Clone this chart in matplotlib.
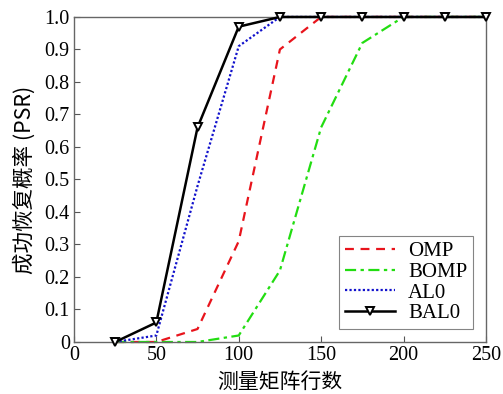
import matplotlib
matplotlib.use('Agg')
import matplotlib.pyplot as plt

# measurement rows (x) and success probability for each algorithm
rows = [25, 50, 75, 100, 125, 150, 175, 200, 225, 250]
omp  = [0, 0, 0.04, 0.31, 0.90, 1.0, 1.0, 1.0, 1.0, 1.0]
bomp = [0, 0, 0, 0.02, 0.22, 0.66, 0.92, 1.0, 1.0, 1.0]
al0  = [0, 0.02, 0.48, 0.91, 1.0, 1.0, 1.0, 1.0, 1.0, 1.0]
bal0 = [0, 0.06, 0.66, 0.97, 1.0, 1.0, 1.0, 1.0, 1.0, 1.0]

SERIF = ['Liberation Serif', 'DejaVu Serif']
CJK = ['Noto Sans CJK SC', 'DejaVu Sans']
plt.rcParams['font.family'] = SERIF

fig = plt.figure(figsize=(5.03, 3.94), dpi=100)
ax = fig.add_axes([0.147, 0.132, 0.819, 0.825])

ax.plot(rows, omp, color='#e8141c', ls=(0, (4, 3)), lw=1.6, label='OMP', clip_on=False)
ax.plot(rows, bomp, color='#22dd11', ls=(0, (5, 2, 1.5, 2)), lw=1.6, label='BOMP', clip_on=False)
ax.plot(rows, al0, color='#1111cc', ls=(0, (1, 1)), lw=1.6, label='AL0', clip_on=False)
ax.plot(rows, bal0, color='black', lw=1.8, marker='v', ms=6,
        mfc='white', mec='black', mew=1.4, label='BAL0', clip_on=False, zorder=5)

ax.set_xlim(0, 250)
ax.set_ylim(0, 1)
ax.set_xticks([0, 50, 100, 150, 200, 250])
ax.set_yticks([i / 10 for i in range(11)])
ax.set_yticklabels(['0'] + [f'{i/10:.1f}' for i in range(1, 11)])
ax.tick_params(direction='in', length=4, labelsize=14.5, color='#555555', pad=3)
for s in ax.spines.values():
    s.set_color('#666666')
    s.set_linewidth(1.0)

ax.set_xlabel('测量矩阵行数', family=CJK, fontsize=15, labelpad=4)
ax.set_ylabel('成功恢复概率 (PSR)', family=CJK, fontsize=15.5, labelpad=6)

leg = ax.legend(loc='lower right', prop={'family': SERIF, 'size': 15},
                fancybox=False, handlelength=2.4, borderpad=0.3,
                labelspacing=0.05, handletextpad=0.6, borderaxespad=0.6)
leg.get_frame().set_edgecolor('#666666')
leg.get_frame().set_linewidth(0.8)
leg.set_zorder(10)

fig.savefig('out.png', dpi=100)
